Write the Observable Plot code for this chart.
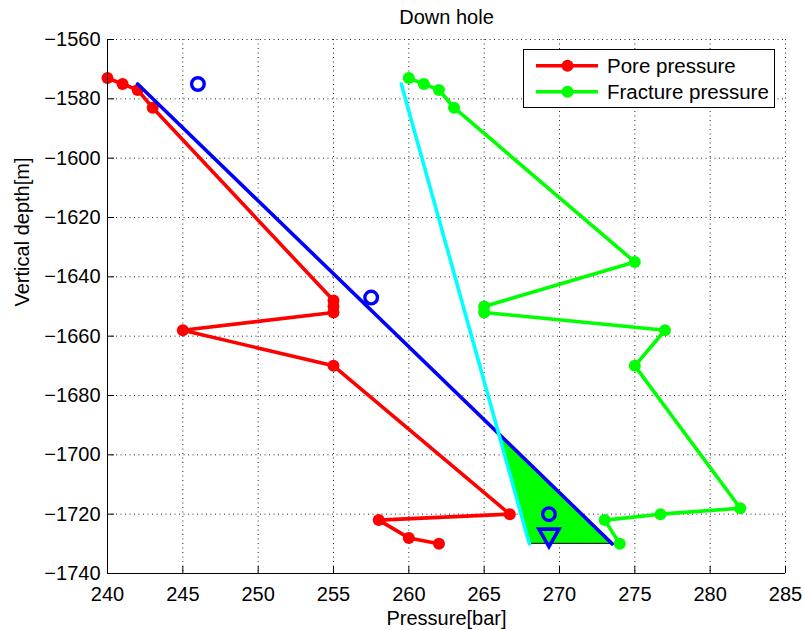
<!DOCTYPE html>
<html>
<head>
<meta charset="utf-8">
<script src="https://cdn.jsdelivr.net/npm/d3@7"></script>
<script src="https://cdn.jsdelivr.net/npm/@observablehq/plot@0.6"></script>
<style>
  html, body { margin: 0; padding: 0; background: #fff; }
  #wrap { position: relative; width: 804px; height: 630px; font-family: "Liberation Sans", Arial, Helvetica, sans-serif; }
  #legend { position: absolute; left: 523px; top: 49px; }
</style>
</head>
<body>
<div id="wrap"></div>
<script>
// ---- Data ----
const xTicks = [240, 245, 250, 255, 260, 265, 270, 275, 280, 285];
const yTicks = [-1740, -1720, -1700, -1680, -1660, -1640, -1620, -1600, -1580, -1560];

const porePressure = [240, 241, 242, 243, 255, 255, 255, 245, 255, 266.7, 258, 260, 262];
const poreDepth    = [-1573, -1575, -1577, -1583, -1648, -1650, -1652, -1658, -1670, -1720, -1722, -1728, -1730];

const fracPressure = [260, 261, 262, 263, 275, 265, 265, 277, 275, 282, 276.7, 273, 274];
const fracDepth    = [-1573, -1575, -1577, -1583, -1635, -1650, -1652, -1658, -1670, -1718, -1720, -1722, -1730];

const bluePressure = [242, 273.5];
const blueDepth    = [-1575, -1730];

const cyanPressure = [259.5, 268];
const cyanDepth    = [-1575, -1730];

const circlePressure = [246, 257.5, 269.3];
const circleDepth    = [-1575, -1647, -1720];

const trianglePressure = [269.3];
const triangleDepth    = [-1727];

const seriesNames = ["Pore pressure", "Fracture pressure"];
const seriesColors = ["#ff0000", "#00ff00"];

// ---- Derived tables ----
const zip = (xs, ys) => xs.map((p, i) => ({p, d: ys[i]}));
const pore = zip(porePressure, poreDepth);
const frac = zip(fracPressure, fracDepth);
const blue = zip(bluePressure, blueDepth);
const cyan = zip(cyanPressure, cyanDepth);
const circles = zip(circlePressure, circleDepth);
const tris = zip(trianglePressure, triangleDepth);

// Green wedge between cyan and blue lines, from their crossing down to the bottom
const lerpAt = (xs, ys, d) => xs[0] + (d - ys[0]) * (xs[1] - xs[0]) / (ys[1] - ys[0]);
const f0 = bluePressure[0] - lerpAt(cyanPressure, cyanDepth, blueDepth[0]);
const f1 = bluePressure[1] - lerpAt(cyanPressure, cyanDepth, blueDepth[1]);
const dCross = blueDepth[0] + (blueDepth[1] - blueDepth[0]) * f0 / (f0 - f1);
const wedge = [dCross, blueDepth[1]].map(d => ({
  d,
  xc: lerpAt(cyanPressure, cyanDepth, d),
  xb: lerpAt(bluePressure, blueDepth, d)
}));

const W = 804, H = 630, ML = 107, MR = 19, MT = 39, MB = 57;
const plotW = W - ML - MR, plotH = H - MT - MB;
const fmtY = d => (d < 0 ? "\u2212" + Math.abs(d) : String(d));
const gridStyle = {stroke: "#000", strokeOpacity: 0.85, strokeDasharray: "1,3.5"};
const LW = 3.6;

const chart = Plot.plot({
  width: W, height: H,
  marginLeft: ML, marginRight: MR, marginTop: MT, marginBottom: MB,
  style: {fontFamily: "Liberation Sans, Arial, Helvetica, sans-serif", fontSize: "20px", color: "#000", background: "#fff", overflow: "visible"},
  x: {domain: [xTicks[0], xTicks[xTicks.length - 1]]},
  y: {domain: [yTicks[0], yTicks[yTicks.length - 1]]},
  marks: [
    Plot.gridX(xTicks, gridStyle),
    Plot.gridY(yTicks, gridStyle),
    Plot.areaX(wedge, {y: "d", x1: "xc", x2: "xb", fill: "#00ff00", stroke: "#000", strokeWidth: 1}),
    Plot.line(pore, {x: "p", y: "d", stroke: seriesColors[0], strokeWidth: LW}),
    Plot.dot(pore, {x: "p", y: "d", r: 6, fill: seriesColors[0]}),
    Plot.line(frac, {x: "p", y: "d", stroke: seriesColors[1], strokeWidth: LW}),
    Plot.dot(frac, {x: "p", y: "d", r: 6, fill: seriesColors[1]}),
    Plot.line(blue, {x: "p", y: "d", stroke: "#0000ff", strokeWidth: LW}),
    Plot.line(cyan, {x: "p", y: "d", stroke: "#00ffff", strokeWidth: LW}),
    Plot.dot(circles, {x: "p", y: "d", r: 6.3, stroke: "#0000ff", strokeWidth: 3.4, fill: "none"}),
    Plot.dot(tris, {x: "p", y: "d", symbol: "triangle", rotate: 180, r: 7.5, stroke: "#0000ff", strokeWidth: 3.6, fill: "none"}),
    Plot.ruleX([xTicks[0]], {stroke: "#000", strokeWidth: 1}),
    Plot.ruleY([yTicks[0]], {stroke: "#000", strokeWidth: 1}),
    Plot.tickX(xTicks, {x: d => d, stroke: "#000", insetTop: plotH - 7}),
    Plot.tickY(yTicks, {y: d => d, stroke: "#000", insetRight: plotW - 7}),
    Plot.axisX(xTicks, {tickSize: 0, tickPadding: 13, label: null, fill: "#000"}),
    Plot.axisY(yTicks, {tickSize: 0, tickPadding: 7, label: null, tickFormat: fmtY, fill: "#000"}),
    Plot.text(["Down hole"], {text: d => d, frameAnchor: "top", dy: -30, fill: "#000"}),
    Plot.text(["Pressure[bar]"], {text: d => d, frameAnchor: "bottom", dy: 51, fill: "#000"}),
    Plot.text(["Vertical depth[m]"], {text: d => d, frameAnchor: "left", dx: -85, rotate: -90, fill: "#000"})
  ]
});

const wrap = document.getElementById("wrap");
wrap.appendChild(chart);

// ---- Legend (inside the axes, top right) ----
const lw = 252, lh = 59;
const legend = d3.create("svg").attr("id", "legend").attr("width", lw).attr("height", lh);
legend.append("rect").attr("x", 0.5).attr("y", 0.5).attr("width", lw - 1).attr("height", lh - 1)
  .attr("fill", "#fff").attr("stroke", "#000").attr("stroke-width", 1);
seriesNames.forEach((name, i) => {
  const cy = 16.7 + i * 26;
  const g = legend.append("g");
  g.append("line").attr("x1", 13).attr("x2", 75).attr("y1", cy).attr("y2", cy)
    .attr("stroke", seriesColors[i]).attr("stroke-width", LW);
  g.append("circle").attr("cx", 44.5).attr("cy", cy).attr("r", 6).attr("fill", seriesColors[i]);
  g.append("text").attr("x", 84).attr("y", cy).attr("dy", "0.35em")
    .attr("font-family", "Liberation Sans, Arial, Helvetica, sans-serif").attr("font-size", 20.5)
    .attr("fill", "#000").text(name);
});
wrap.appendChild(legend.node());
</script>
</body>
</html>
